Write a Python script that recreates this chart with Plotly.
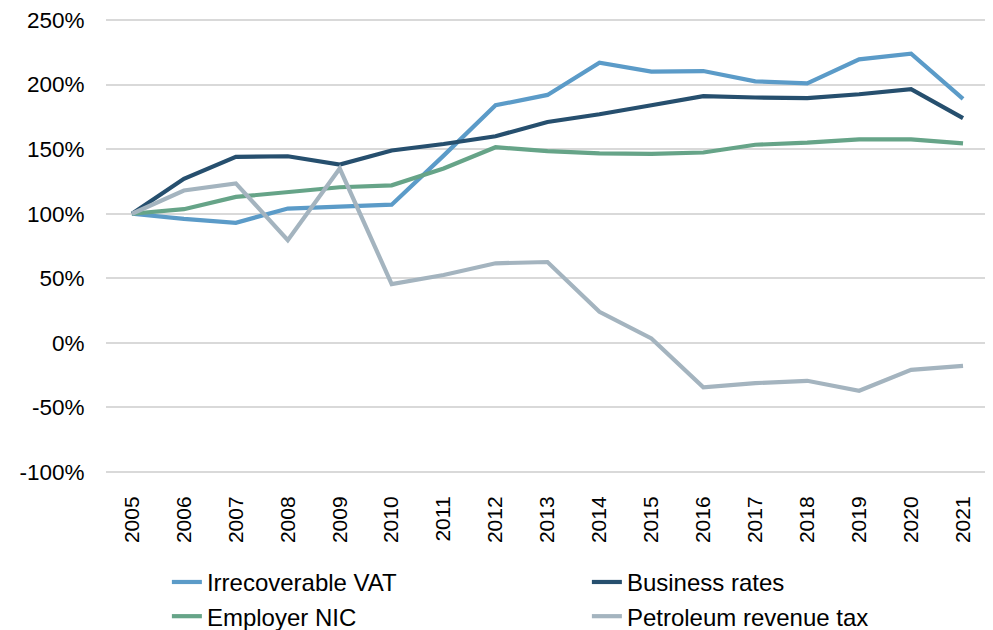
import plotly.graph_objects as go

years = [str(y) for y in range(2005, 2022)]

irrecoverable_vat = [100, 96, 93, 104, 105.5, 107, 145, 184, 192, 217, 210, 210.5, 202.5, 201, 219.5, 224, 189]
business_rates = [100, 127, 144, 144.5, 138, 149, 154, 160, 171, 177, 184, 191, 190, 189.5, 192.5, 196.5, 174]
employer_nic = [100, 103.5, 113, 116.5, 120.5, 122, 135, 151.5, 148.5, 146.7, 146.4, 147.4, 153.4, 155, 157.5, 157.5, 154.5]
petroleum_revenue_tax = [100, 118, 123.5, 79.5, 135, 45.5, 52.5, 61.6, 62.6, 24, 3.4, -34.5, -31.2, -29.4, -37.1, -20.9, -17.8]

series = [
    ("Irrecoverable VAT", irrecoverable_vat, "#5B9BC8"),
    ("Business rates", business_rates, "#264F6E"),
    ("Employer NIC", employer_nic, "#66A488"),
    ("Petroleum revenue tax", petroleum_revenue_tax, "#A4B4BF"),
]

y_ticks = [-100, -50, 0, 50, 100, 150, 200, 250]
y_tick_labels = [f"{v}%" for v in y_ticks]

fig = go.Figure()
for name, vals, color in series:
    fig.add_trace(go.Scatter(
        x=years, y=vals, name=name, mode="lines",
        line=dict(color=color, width=4.2),
        hoverinfo="skip",
    ))

fig.update_layout(
    width=993, height=630,
    margin=dict(l=98, r=12, t=11, b=165, autoexpand=False),
    paper_bgcolor="white", plot_bgcolor="white",
    font=dict(family="Liberation Sans, Arial, sans-serif", size=22, color="black"),
    showlegend=True,
    legend=dict(
        orientation="h",
        xref="container", yref="container",
        x=0.16, xanchor="left",
        y=0.124, yanchor="top",
        entrywidth=375, entrywidthmode="pixels",
        font=dict(size=24),
        tracegroupgap=0,
        itemwidth=30,
    ),
)
fig.update_xaxes(
    type="category", range=[-0.5, len(years) - 0.5], tickangle=-90, tickfont=dict(size=21),
    showgrid=False, showline=False, zeroline=False,
    ticks="outside", ticklen=14, tickcolor="rgba(0,0,0,0)", automargin=False,
)
fig.update_yaxes(
    range=[-100.8, 250.8], tickvals=y_ticks, ticktext=y_tick_labels, tickfont=dict(size=22.5),
    showgrid=True, gridcolor="#D9D9D9", gridwidth=1.5,
    zeroline=False, showline=False, ticklabeloverflow="allow",
    ticks="outside", ticklen=16, tickcolor="rgba(0,0,0,0)", automargin=False,
)

fig.write_html("out.html")
